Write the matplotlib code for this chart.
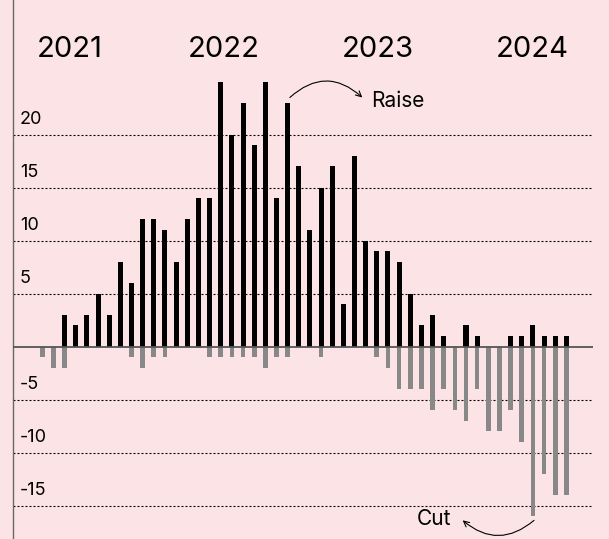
import matplotlib.pyplot as plt
import numpy as np

plt.rcParams["font.family"] = ["Inter", "DejaVu Sans"]

# monthly counts: banks raising vs. cutting rates
raises = [0, 0, 3, 2, 3, 5, 3, 8, 6, 12, 12, 11, 8, 12, 14, 14,
          25, 20, 23, 19, 25, 14, 23, 17, 11, 15, 17, 4, 18, 10, 9, 9,
          8, 5, 2, 3, 1, 0, 2, 1, 0, 0, 1, 1, 2, 1, 1, 1]
cuts = [-1, -2, -2, 0, 0, 0, 0, 0, -1, -2, -1, -1, 0, 0, 0, -1,
        -1, -1, -1, -1, -2, -1, -1, 0, 0, -1, 0, 0, 0, 0, -1, -2,
        -4, -4, -4, -6, -4, -6, -7, -4, -8, -8, -6, -9, -16, -12, -14, -14]
years = ["2021", "2022", "2023", "2024"]
year_pos = [2.5, 16.3, 30.1, 43.9]
grid_vals = [20, 15, 10, 5, -5, -10, -15]

bg = "#fce4e6"
fig = plt.figure(figsize=(6.09, 5.39), dpi=100, facecolor=bg)
ax = fig.add_axes([13 / 609, 0, 580 / 609, 1])
ax.set_facecolor(bg)

x = np.arange(len(raises))
ax.bar(x, raises, width=0.45, color="black", zorder=3)
ax.bar(x, cuts, width=0.42, color="#888888", zorder=3)

ax.set_xlim(-2.63, 49.39)
ax.set_ylim(-18.16, 32.7)

for v in grid_vals:
    ax.axhline(v, color="black", lw=0.8, linestyle=(0, (1.8, 1.8)), zorder=1)
    ax.annotate(str(v), xy=(0, v), xycoords=("axes fraction", "data"),
                xytext=(5, 7.9), textcoords="offset points",
                fontsize=13, va="baseline", ha="left")
ax.axhline(0, color="#555555", lw=1.3, zorder=4)

for lbl, pos in zip(years, year_pos):
    ax.text(pos, 28.0, lbl, fontsize=21, ha="center", va="center")

ax.annotate("", xy=(28.7, 23.5), xytext=(22.2, 23.5),
            arrowprops=dict(arrowstyle="->", lw=0.8, color="black",
                            connectionstyle="arc3,rad=-0.45",
                            shrinkA=0, shrinkB=0))
ax.text(29.45, 23.2, "Raise", fontsize=15, ha="left", va="center")

ax.annotate("", xy=(37.7, -16.4), xytext=(44.1, -16.4),
            arrowprops=dict(arrowstyle="->", lw=0.8, color="black",
                            connectionstyle="arc3,rad=-0.42",
                            shrinkA=0, shrinkB=0))
ax.text(33.6, -16.3, "Cut", fontsize=15, ha="left", va="center")

ax.set_xticks([])
ax.set_yticks([])
for side in ["top", "right", "bottom"]:
    ax.spines[side].set_visible(False)
ax.spines["left"].set_color("#666666")
ax.spines["left"].set_linewidth(1.0)

fig.savefig("out.png", dpi=100, facecolor=bg)
